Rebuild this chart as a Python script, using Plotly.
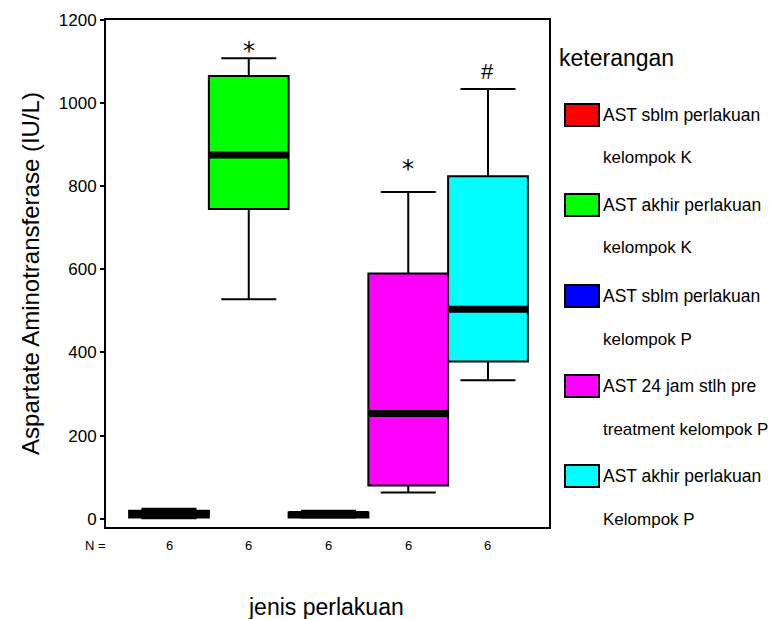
import plotly.graph_objects as go

# ---------------- data ----------------
legend_line1 = ["AST sblm perlakuan", "AST akhir perlakuan", "AST sblm perlakuan",
                "AST 24 jam stlh pre", "AST akhir perlakuan"]
legend_line2 = ["kelompok K", "kelompok K", "kelompok P",
                "treatment kelompok P", "Kelompok P"]
colors = ["#ff0000", "#00ff00", "#0000ff", "#ff00ff", "#00ffff"]
positions = [1, 2, 3, 4, 5]
lower = [1, 528, 2, 63, 333]
q1 = [3, 745, 3, 80, 378]
median = [12, 875, 10, 253, 504]
q3 = [19, 1065, 15, 590, 824]
upper = [24, 1108, 19, 786, 1034]
n_counts = [6, 6, 6, 6, 6]
sig_marks = ["", "*", "", "*", "#"]
sig_y = [None, 1134, None, 851, 1075]
outlier_x = [3]
outlier_y = [-27]
y_ticks = [0, 200, 400, 600, 800, 1000, 1200]

# ---------------- layout geometry ----------------
W, H = 772, 619
L, R, T, B = 106, 223, 20, 92
PW = W - L - R
PH = H - T - B


def xp(px):
    return (px - L) / PW


def yp(py):
    return (H - B - py) / PH


FONT = "Liberation Sans, Arial, sans-serif"

fig = go.Figure()

for i in range(len(positions)):
    fig.add_trace(go.Box(
        x=[positions[i]],
        q1=[q1[i]], median=[median[i]], q3=[q3[i]],
        lowerfence=[lower[i]], upperfence=[upper[i]],
        width=1.0, whiskerwidth=0.69,
        fillcolor=colors[i],
        line=dict(color="black", width=2),
        boxpoints=False, showlegend=False, hoverinfo="skip",
    ))
    # thick median bar
    fig.add_trace(go.Scatter(
        x=[positions[i] - 0.5, positions[i] + 0.5],
        y=[median[i], median[i]],
        mode="lines", line=dict(color="black", width=7),
        showlegend=False, hoverinfo="skip",
    ))

fig.add_trace(go.Scatter(
    x=outlier_x, y=outlier_y, mode="markers",
    marker=dict(symbol="square", size=7, color="black",
                line=dict(width=0)),
    cliponaxis=False, showlegend=False, hoverinfo="skip",
))

annotations = []
for i in range(len(positions)):
    if sig_marks[i]:
        is_star = sig_marks[i] == "*"
        annotations.append(dict(
            x=positions[i], y=sig_y[i], xref="x", yref="y",
            text=sig_marks[i], showarrow=False,
            xanchor="center", yanchor="middle",
            font=dict(family="DejaVu Sans" if is_star else FONT,
                      size=24 if is_star else 22, color="black"),
            yshift=-4 if is_star else 0,
        ))
    annotations.append(dict(
        x=positions[i], y=yp(545), xref="x", yref="paper",
        xanchor="center", yanchor="middle",
        text=str(n_counts[i]), showarrow=False,
        font=dict(family=FONT, size=13, color="black"),
    ))

annotations.append(dict(
    x=xp(95), y=yp(545), xref="paper", yref="paper", text="N =",
    xanchor="center", yanchor="middle",
    showarrow=False, font=dict(family=FONT, size=13, color="black")))

annotations.append(dict(
    x=xp(326), y=yp(607), xref="paper", yref="paper",
    xanchor="center", yanchor="middle",
    text="jenis perlakuan", showarrow=False,
    font=dict(family=FONT, size=23, color="black")))

annotations.append(dict(
    x=xp(557), y=yp(58), xref="paper", yref="paper",
    text="keterangan", showarrow=False, xanchor="left", yanchor="middle",
    font=dict(family=FONT, size=23, color="black")))

shapes = []
sw_centers = [115, 205, 296, 386, 476]
for i in range(len(positions)):
    c = sw_centers[i]
    shapes.append(dict(
        type="rect", xref="paper", yref="paper",
        x0=xp(565), x1=xp(599), y0=yp(c + 11), y1=yp(c - 11),
        fillcolor=colors[i], line=dict(color="black", width=2)))
    annotations.append(dict(
        x=xp(601), y=yp(c), xref="paper", yref="paper",
        text=legend_line1[i], showarrow=False,
        xanchor="left", yanchor="middle",
        font=dict(family=FONT, size=17.5, color="black")))
    annotations.append(dict(
        x=xp(601), y=yp(c + 43), xref="paper", yref="paper",
        text=legend_line2[i], showarrow=False,
        xanchor="left", yanchor="middle",
        font=dict(family=FONT, size=17, color="black")))

fig.update_layout(
    width=W, height=H,
    margin=dict(l=L, r=R, t=T, b=B, pad=0),
    paper_bgcolor="white", plot_bgcolor="white",
    showlegend=False,
    annotations=annotations, shapes=shapes,
    xaxis=dict(range=[0.21, 5.765], showticklabels=False, ticks="",
               showgrid=False, zeroline=False, showline=True,
               linecolor="black", linewidth=2, mirror=True, fixedrange=True),
    yaxis=dict(range=[-20, 1200], tickvals=y_ticks,
               ticktext=[str(v) for v in y_ticks],
               ticks="outside", ticklen=4, tickwidth=2, tickcolor="black",
               showgrid=False, zeroline=False, showline=True,
               linecolor="black", linewidth=2, mirror=True,
               tickfont=dict(family=FONT, size=17, color="black"),
               title=dict(text="Aspartate Aminotransferase (IU/L)",
                          font=dict(family=FONT, size=24, color="black"),
                          standoff=12),
               fixedrange=True),
)

fig.write_html("out.html", config={"displayModeBar": False},
               post_script="document.body.style.margin='0px';")
